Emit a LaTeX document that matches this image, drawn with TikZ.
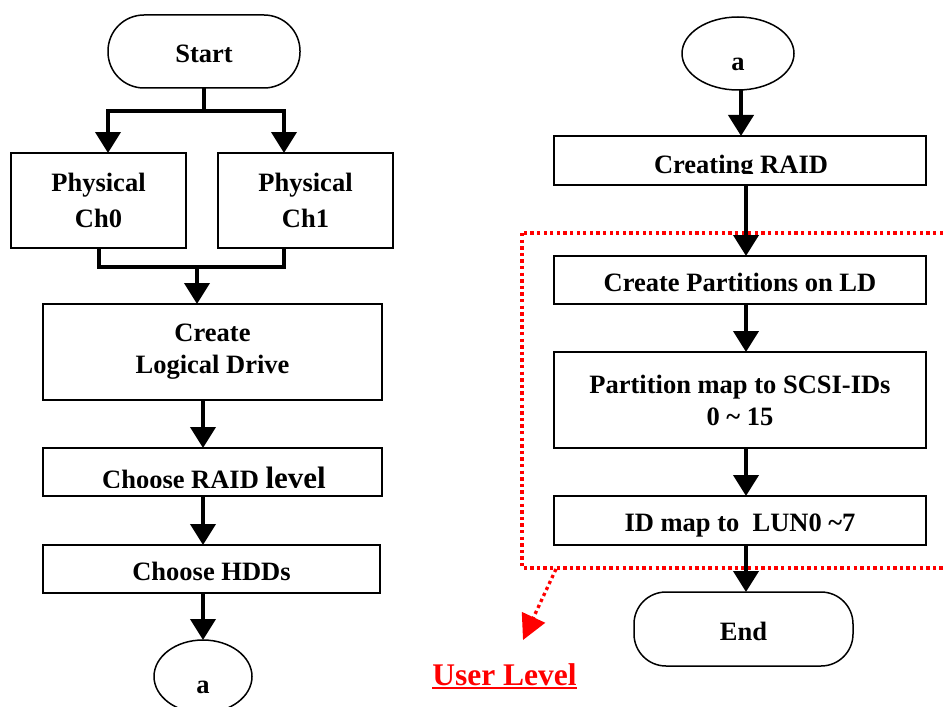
\documentclass[tikz,border=0pt]{standalone}
\usepackage{fontspec}
\setmainfont{Liberation Serif}
\usetikzlibrary{arrows.meta,shapes.geometric}

% bold Times-like face used inside the flowchart boxes
\newcommand\flowfont{\fontsize{26.5}{32}\selectfont\bfseries}

\begin{document}
\begin{tikzpicture}[x=1pt,y=-1pt,
  every node/.style={inner sep=0pt, outer sep=0pt},
  box/.style={draw, line width=1.5pt, rectangle, font=\flowfont, align=center},
  oneline/.style={text height=22pt, text depth=0pt},
  term/.style={box, rounded corners=#1},
  conn/.style={draw, ellipse, line width=1.5pt, font=\flowfont,
               text height=34pt, text depth=0pt},
  wire/.style={line width=4pt},
  arr/.style={wire, -{Triangle[length=21pt,width=25pt]}},
  userframe/.style={red, line width=3.3pt, dash pattern=on 3.3pt off 3.3pt},
  userarr/.style={userframe, -{Triangle[length=25pt,width=25pt]}},
]
\useasboundingbox (0,0) rectangle (944,706);
\clip (0,0) rectangle (944,706);

% ---------- user-level frame (drawn first, lies under the arrows)
\coordinate (uf-nw) at (522,233);
\coordinate (uf-se) at (965,568);
\draw[userframe] (uf-nw) rectangle (uf-se);

% ---------- left column
\node[term=36pt, oneline, minimum width=192pt, minimum height=73pt] (start) at (204,51.5) {Start};
\node[box, minimum width=175pt, minimum height=95pt] (ch0) at (98.5,200.5) {Physical\\[4pt]Ch0};
\node[box, minimum width=175pt, minimum height=95pt] (ch1) at (305.5,200.5) {Physical\\[4pt]Ch1};
\node[box, minimum width=339pt, minimum height=96pt] (cld) at (212.5,352) {Create\\Logical Drive};
\node[box, minimum width=339pt, minimum height=48pt] (raid) at (212.5,472) {};
\node[box, oneline, minimum width=337pt, minimum height=48pt] (hdd) at (211.5,569) {Choose HDDs};
\node[conn, minimum width=98pt, minimum height=73pt] (aout) at (203,676.5) {a};

% label of the RAID-level box, cut off near its baseline
\begin{scope}
  \clip (43,448) rectangle (382,487);
  \node[anchor=base] (raidtxt) at (214,488.5)
    {{\flowfont Choose RAID }{\fontsize{31}{32}\selectfont\bfseries level}};
\end{scope}

% split from Start to both channels
\coordinate (split) at (204,111);
\coordinate (sp0) at (108,111);
\coordinate (sp1) at (284,111);
\draw[wire] (start.south) -- (split);
\draw[arr] (split) -- (sp0) -- (sp0 |- ch0.north);
\draw[arr] (split) -- (sp1) -- (sp1 |- ch1.north);

% merge of both channels into Create Logical Drive
\coordinate (mg0) at (98.5,267);
\coordinate (mg1) at (284,267);
\coordinate (mgc) at (197,267);
\draw[wire, line join=miter] (ch0.south) -- (mg0) -- (mg1) -- (mg1 |- ch1.south);
\draw[arr] (mgc) -- (mgc |- cld.north);

\draw[arr] ([xshift=-9.5pt]cld.south) -- ([xshift=-9.5pt]raid.north);
\draw[arr] ([xshift=-9.5pt]raid.south) -- ([xshift=-8.5pt]hdd.north);
\draw[arr] ([xshift=-8.5pt]hdd.south) -- (aout.north);

% ---------- right column
\node[conn, minimum width=112pt, minimum height=73pt] (ain) at (738,53.5) {a};
\node[box, minimum width=372pt, minimum height=49pt] (craid) at (740,160.5) {};
\node[box, oneline, minimum width=372pt, minimum height=48pt] (cpart) at (740,280) {Create Partitions on LD};
\node[box, minimum width=372pt, minimum height=96pt] (pmap) at (740,400)
  {Partition map to SCSI-IDs\\0 \textasciitilde{} 15};
\node[box, oneline, minimum width=372pt, minimum height=49pt] (idmap) at (740,520.5)
  {ID map to\ \ LUN0 \textasciitilde7};
\node[term=32pt, oneline, minimum width=219pt, minimum height=74pt] (end) at (743.5,629) {End};

% label of the Creating RAID box, cut off near its baseline
\begin{scope}
  \clip (554,136) rectangle (926,173);
  \node[anchor=base, font=\flowfont] (craidtxt) at (741,173.5) {Creating RAID};
\end{scope}

\draw[arr] ([xshift=3pt]ain.south) -- ([xshift=1pt]craid.north);
\draw[arr] ([xshift=6pt]craid.south) -- ([xshift=6pt]cpart.north);
\draw[arr] ([xshift=6pt]cpart.south) -- ([xshift=6pt]pmap.north);
\draw[arr] ([xshift=6pt]pmap.south) -- ([xshift=6pt]idmap.north);
\draw[arr] ([xshift=6pt]idmap.south) -- ([xshift=2.5pt]end.north);

% ---------- user-level label and its pointer
\node[anchor=base, text=red, font=\fontsize{31.5}{36}\selectfont\bfseries] (ul) at (504.5,685) {User Level};
\draw[red, line width=2.5pt] ([yshift=-3pt]ul.base west) -- ([yshift=-3pt]ul.base east);
\coordinate (uptr) at (556,569);
\coordinate (utip) at (523,640);
\draw[userarr] (uptr) -- (utip);
\end{tikzpicture}
\end{document}
